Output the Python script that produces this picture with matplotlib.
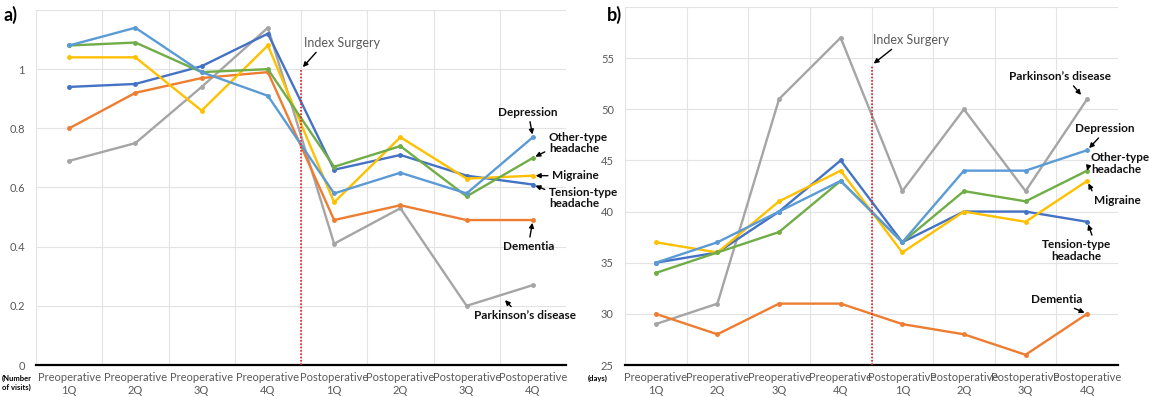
import matplotlib
matplotlib.use("Agg")
import matplotlib.pyplot as plt

plt.rcParams["font.family"] = ["Lato", "DejaVu Sans"]

QUARTERS = ["Preoperative\n1Q", "Preoperative\n2Q", "Preoperative\n3Q", "Preoperative\n4Q",
            "Postoperative\n1Q", "Postoperative\n2Q", "Postoperative\n3Q", "Postoperative\n4Q"]

# panel a: number of visits
visits_depression = [1.08, 1.14, 0.99, 0.91, 0.58, 0.65, 0.58, 0.77]
visits_other_headache = [1.08, 1.09, 0.99, 1.00, 0.67, 0.74, 0.57, 0.70]
visits_migraine = [1.04, 1.04, 0.86, 1.08, 0.55, 0.77, 0.63, 0.64]
visits_tension = [0.94, 0.95, 1.01, 1.12, 0.66, 0.71, 0.64, 0.61]
visits_dementia = [0.80, 0.92, 0.97, 0.99, 0.49, 0.54, 0.49, 0.49]
visits_parkinson = [0.69, 0.75, 0.94, 1.14, 0.41, 0.53, 0.20, 0.27]

# panel b: days
days_depression = [35, 37, 40, 43, 37, 44, 44, 46]
days_other_headache = [34, 36, 38, 43, 37, 42, 41, 44]
days_migraine = [37, 36, 41, 44, 36, 40, 39, 43]
days_tension = [35, 36, 40, 45, 37, 40, 40, 39]
days_dementia = [30, 28, 31, 31, 29, 28, 26, 30]
days_parkinson = [29, 31, 51, 57, 42, 50, 42, 51]

COLORS = {
    "depression": "#5B9BD5",
    "other": "#70AD47",
    "migraine": "#FFC000",
    "tension": "#4472C4",
    "dementia": "#ED7D31",
    "parkinson": "#A5A5A5",
}

TICK_COLOR = "#595959"
x = list(range(1, 9))

fig = plt.figure(figsize=(11.49, 3.97), dpi=100)
ax_a = fig.add_axes([36 / 1149, 32 / 397, 530 / 1149, 355 / 397])
ax_b = fig.add_axes([625 / 1149, 32 / 397, 493 / 1149, 358 / 397])


def style_axes(ax, ylim, yticks, ylabels):
    ax.set_xlim(0.5, 8.5)
    ax.set_ylim(*ylim)
    ax.set_yticks(yticks)
    ax.set_yticklabels(ylabels)
    ax.set_xticks(x)
    ax.set_xticklabels(QUARTERS)
    ax.set_xticks([i + 0.5 for i in range(0, 8)], minor=True)
    ax.grid(True, axis="y", color="#E3E3E3", lw=0.8)
    ax.grid(True, axis="x", which="minor", color="#E3E3E3", lw=0.8)
    ax.tick_params(axis="both", which="both", length=0, labelsize=8, labelcolor=TICK_COLOR)
    ax.tick_params(axis="x", pad=5)
    ax.tick_params(axis="y", pad=8)
    for s in ("top", "right", "left"):
        ax.spines[s].set_visible(False)
    ax.spines["bottom"].set_color("black")
    ax.spines["bottom"].set_linewidth(1.6)
    ax.set_axisbelow(True)


def draw_lines(ax, series):
    for key, vals in series:
        ax.plot(x, vals, color=COLORS[key], lw=1.7, marker="o", ms=2.5, zorder=3)


style_axes(ax_a, (0, 1.2), [0, 0.2, 0.4, 0.6, 0.8, 1.0, 1.2],
           ["0", "0.2", "0.4", "0.6", "0.8", "1", ""])
draw_lines(ax_a, [("parkinson", visits_parkinson), ("dementia", visits_dementia),
                  ("tension", visits_tension), ("migraine", visits_migraine),
                  ("other", visits_other_headache), ("depression", visits_depression)])
ax_a.plot([4.5, 4.5], [0, 1.0], color="#E02020", lw=1.2, ls=(0, (1, 1)), zorder=4)

style_axes(ax_b, (25, 60), [25, 30, 35, 40, 45, 50, 55, 60],
           ["25", "30", "35", "40", "45", "50", "55", ""])
draw_lines(ax_b, [("parkinson", days_parkinson), ("dementia", days_dementia),
                  ("tension", days_tension), ("migraine", days_migraine),
                  ("other", days_other_headache), ("depression", days_depression)])
ax_b.plot([4.5, 4.5], [25, 54.3], color="#E02020", lw=1.2, ls=(0, (1, 1)), zorder=4)

arrow = dict(arrowstyle="-|>", color="black", lw=1.0, mutation_scale=7, shrinkA=1, shrinkB=2)
lab = dict(fontsize=8.5, fontweight="bold", color="#111111", annotation_clip=False,
           arrowprops=arrow, linespacing=1.05)

# panel a annotations
ax_a.annotate("Index Surgery", xy=(4.5, 1.0), xytext=(4.55, 1.09), fontsize=9,
              color=TICK_COLOR, ha="left", va="center",
              arrowprops=dict(arrow, relpos=(0.2, 0)))
ax_a.annotate("Depression", xy=(8, 0.77), xytext=(7.93, 0.855), ha="center", va="center", **lab)
ax_a.annotate("Other-type\nheadache", xy=(8, 0.70), xytext=(8.24, 0.75), ha="left", va="center",
              **dict(lab, arrowprops=dict(arrow, relpos=(0, 0.2))))
ax_a.annotate("Migraine", xy=(8, 0.64), xytext=(8.29, 0.64), ha="left", va="center",
              **dict(lab, arrowprops=dict(arrow, relpos=(0, 0.5))))
ax_a.annotate("Tension-type\nheadache", xy=(8, 0.61), xytext=(8.24, 0.565), ha="left", va="center",
              **dict(lab, arrowprops=dict(arrow, relpos=(0, 0.8))))
ax_a.annotate("Dementia", xy=(8, 0.49), xytext=(7.93, 0.40), ha="center", va="center", **lab)
ax_a.annotate("Parkinson\u2019s disease", xy=(7.55, 0.226), xytext=(7.88, 0.166),
              ha="center", va="center",
              **dict(lab, arrowprops=dict(arrow, relpos=(0.4, 1))))

# panel b annotations
ax_b.annotate("Index Surgery", xy=(4.5, 54.3), xytext=(4.53, 56.8), fontsize=9,
              color=TICK_COLOR, ha="left", va="center",
              arrowprops=dict(arrow, relpos=(0.3, 0)))
ax_b.annotate("Parkinson\u2019s disease", xy=(7.93, 51.2), xytext=(7.56, 53.2),
              ha="center", va="center",
              **dict(lab, arrowprops=dict(arrow, relpos=(0.6, 0))))
ax_b.annotate("Depression", xy=(8, 46), xytext=(8.29, 48.1), ha="center", va="center",
              **dict(lab, arrowprops=dict(arrow, relpos=(0.45, 0))))
ax_b.annotate("Other-type\nheadache", xy=(8, 44), xytext=(8.06, 44.7), ha="left", va="center",
              **dict(lab, arrowprops=dict(arrow, relpos=(0, 0.8))))
ax_b.annotate("Migraine", xy=(8, 43), xytext=(8.49, 41.1), ha="center", va="center",
              **dict(lab, arrowprops=dict(arrow, relpos=(0, 1))))
ax_b.annotate("Tension-type\nheadache", xy=(8, 39), xytext=(7.82, 36.2), ha="center", va="center",
              **dict(lab, arrowprops=dict(arrow, relpos=(0.75, 1))))
ax_b.annotate("Dementia", xy=(8, 30), xytext=(7.5, 31.4), ha="center", va="center",
              **dict(lab, arrowprops=dict(arrow, relpos=(0.7, 0))))

fig.text(4 / 1149, 1 - 15 / 397, "a)", fontsize=13, fontweight="bold", va="center", ha="left")
fig.text(607 / 1149, 1 - 15 / 397, "b)", fontsize=13, fontweight="bold", va="center", ha="left")
fig.text(2 / 1149, 1 - 383 / 397, "(Number\nof visits)", fontsize=5.5, fontweight="bold",
         va="center", ha="left", linespacing=1.3)
fig.text(588 / 1149, 1 - 378 / 397, "(days)", fontsize=5.5, fontweight="bold",
         va="center", ha="left")

fig.savefig("out.png", dpi=100)
